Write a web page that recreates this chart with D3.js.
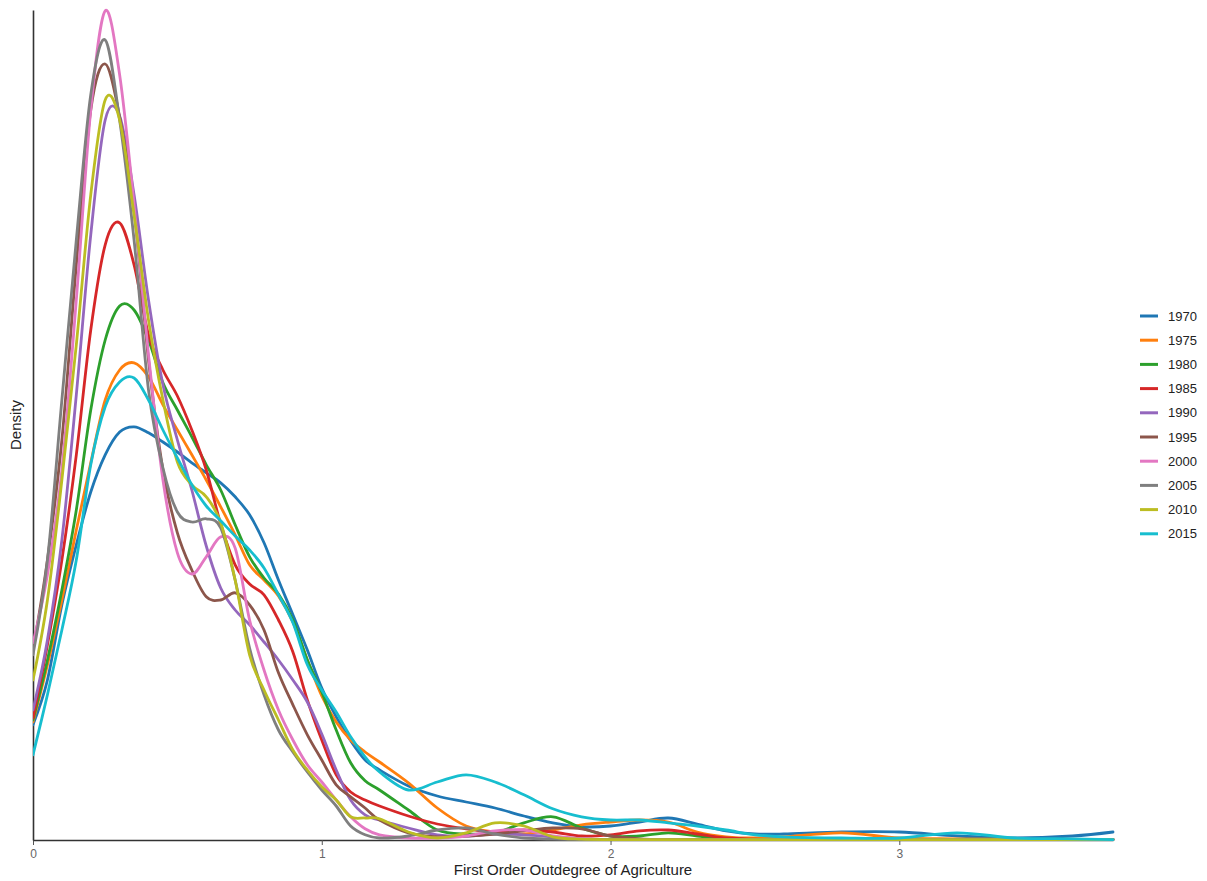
<!DOCTYPE html>
<html>
<head>
<meta charset="utf-8">
<script src="https://cdn.jsdelivr.net/npm/d3@7"></script>
<style>
  html, body { margin: 0; padding: 0; background: #fff; }
  svg { display: block; font-family: "Liberation Sans", Arial, sans-serif; }
</style>
</head>
<body>
<svg id="chart" width="1207" height="881"></svg>
<script>
// ---- data ----
const xGrid = [0,0.05,0.1,0.15,0.2,0.25,0.3,0.35,0.4,0.45,0.5,0.55,0.6,0.65,0.7,0.75,0.8,0.85,0.9,0.95,1.0,1.05,1.1,1.15,1.2,
  1.3,1.4,1.5,1.6,1.7,1.8,1.9,2.0,2.1,2.2,2.3,2.4,2.5,2.6,
  2.8,3.0,3.2,3.4,3.6,3.74];

const years = ["1970","1975","1980","1985","1990","1995","2000","2005","2010","2015"];

const d1970 = [0.288,0.4,0.588,0.738,0.87,0.963,1.02,1.033,1.018,0.995,0.97,0.943,0.918,0.893,0.858,0.813,0.743,0.65,0.563,0.475,0.38,0.308,0.248,0.2,0.175,
  0.135,0.11,0.095,0.08,0.06,0.043,0.033,0.035,0.045,0.055,0.04,0.023,0.015,0.015,
  0.02,0.02,0.01,0.005,0.01,0.02];
const d1975 = [0.295,0.438,0.6,0.775,0.943,1.1,1.175,1.193,1.158,1.088,1.025,0.963,0.9,0.833,0.763,0.688,0.65,0.61,0.545,0.45,0.36,0.295,0.25,0.22,0.195,
  0.143,0.08,0.035,0.02,0.015,0.025,0.038,0.045,0.05,0.045,0.02,0.008,0.005,0.008,
  0.018,0.005,0.003,0.002,0.001,0.001];
const d1980 = [0.3,0.45,0.625,0.825,1.075,1.25,1.335,1.325,1.25,1.143,1.075,1.008,0.938,0.875,0.788,0.708,0.655,0.615,0.55,0.45,0.37,0.275,0.193,0.148,0.125,
  0.075,0.025,0.015,0.018,0.043,0.058,0.03,0.01,0.01,0.018,0.01,0.003,0.001,0.001,
  0.001,0.001,0.001,0.001,0.001,0.001];
const d1985 = [0.305,0.488,0.7,0.963,1.275,1.488,1.543,1.438,1.263,1.175,1.11,1.025,0.925,0.79,0.688,0.64,0.613,0.55,0.47,0.35,0.25,0.163,0.12,0.1,0.085,
  0.06,0.04,0.028,0.02,0.025,0.02,0.01,0.013,0.023,0.025,0.015,0.005,0.002,0.001,
  0.001,0.001,0.001,0.001,0.001,0.001];
const d1990 = [0.325,0.5,0.75,1.113,1.513,1.8,1.81,1.613,1.35,1.138,1.0,0.875,0.735,0.63,0.575,0.538,0.495,0.45,0.4,0.345,0.265,0.175,0.1,0.063,0.05,
  0.03,0.013,0.01,0.015,0.013,0.008,0.003,0.001,0.001,0.001,0.001,0.001,0.001,0.001,
  0.001,0.001,0.001,0.001,0.001,0.001];
const d1995 = [0.475,0.7,1.0,1.438,1.825,1.94,1.808,1.575,1.2,0.925,0.768,0.675,0.608,0.6,0.618,0.588,0.525,0.418,0.338,0.263,0.2,0.138,0.108,0.08,0.05,
  0.018,0.008,0.01,0.015,0.023,0.03,0.028,0.01,0.003,0.001,0.001,0.001,0.001,0.001,
  0.001,0.001,0.001,0.001,0.001,0.001];
const d2000 = [0.493,0.663,0.925,1.35,1.825,2.073,1.913,1.588,1.213,0.9,0.718,0.665,0.708,0.758,0.73,0.55,0.425,0.325,0.25,0.188,0.145,0.1,0.058,0.028,0.013,
  0.005,0.005,0.01,0.023,0.025,0.01,0.003,0.001,0.001,0.001,0.001,0.001,0.001,0.001,
  0.001,0.001,0.001,0.001,0.001,0.001];
const d2005 = [0.463,0.7,1.1,1.5,1.863,2.0,1.8,1.5,1.125,0.93,0.82,0.795,0.803,0.78,0.65,0.48,0.363,0.275,0.22,0.17,0.125,0.085,0.035,0.013,0.005,
  0.01,0.025,0.03,0.015,0.005,0.002,0.001,0.001,0.001,0.001,0.001,0.001,0.001,0.001,
  0.001,0.001,0.001,0.001,0.001,0.001];
const d2010 = [0.4,0.6,0.9,1.238,1.613,1.85,1.8,1.563,1.3,1.1,0.945,0.888,0.858,0.793,0.65,0.463,0.375,0.3,0.225,0.175,0.133,0.1,0.058,0.055,0.053,
  0.02,0.005,0.018,0.043,0.035,0.008,0.002,0.001,0.001,0.001,0.001,0.001,0.001,0.001,
  0.001,0.001,0.001,0.001,0.001,0.001];
const d2015 = [0.213,0.363,0.525,0.7,0.938,1.083,1.145,1.155,1.1,1.025,0.955,0.888,0.835,0.798,0.76,0.725,0.68,0.613,0.543,0.438,0.375,0.32,0.258,0.208,0.17,
  0.125,0.145,0.163,0.145,0.113,0.078,0.058,0.05,0.05,0.043,0.035,0.025,0.013,0.008,
  0.005,0.005,0.018,0.005,0.003,0.001];

const seriesValues = [d1970,d1975,d1980,d1985,d1990,d1995,d2000,d2005,d2010,d2015];
const xTicks = [0,1,2,3];
const xTitle = "First Order Outdegree of Agriculture";
const yTitle = "Density";

// ---- chart ----
(function () {
const svg = d3.select("#chart");
const mLeft = 33, mRight = 1113, mTop = 10, mBottom = 840;
const x = d3.scaleLinear().domain([0, 3.74]).range([mLeft, mRight]);
const y = d3.scaleLinear().domain([0, 2.075]).range([mBottom, mTop]);
const color = d3.scaleOrdinal().domain(years).range(d3.schemeCategory10);

svg.append("defs").append("clipPath").attr("id","clip")
  .append("rect").attr("x", mLeft).attr("y", 0).attr("width", mRight-mLeft+2).attr("height", mBottom+1.5);

// axes
const gx = svg.append("g").attr("transform", `translate(0,${mBottom})`)
  .call(d3.axisBottom(x).tickValues(xTicks).tickFormat(d3.format("d")).tickSize(5).tickSizeOuter(0).tickPadding(4));
gx.select(".domain").attr("stroke","#333").attr("stroke-width",1.6);
gx.selectAll(".tick line").attr("stroke","#555");
gx.selectAll(".tick text").attr("fill","#666").style("font-size","12px").style("font-family","'Liberation Sans', Arial, sans-serif");

const gy = svg.append("g").attr("transform", `translate(${mLeft},0)`)
  .call(d3.axisLeft(y).tickValues([]).tickSizeOuter(0));
gy.select(".domain").attr("stroke","#333").attr("stroke-width",1.6);

// lines
const line = d3.line()
  .x((d,i) => x(xGrid[i]))
  .y(d => y(d))
  .curve(d3.curveCatmullRom.alpha(0));

const gl = svg.append("g").attr("clip-path","url(#clip)");
seriesValues.forEach((vals, k) => {
  gl.append("path")
    .attr("d", line(vals))
    .attr("fill","none")
    .attr("stroke", color(years[k]))
    .attr("stroke-width", 2.8)
    .attr("stroke-linejoin","round")
    .attr("stroke-linecap","round");
});

// titles
svg.append("text").attr("x", (mLeft+mRight)/2).attr("y", 875)
  .attr("text-anchor","middle").style("font-size","15px").attr("fill","#222").text(xTitle);
svg.append("text").attr("transform", `translate(21,425) rotate(-90)`)
  .attr("text-anchor","middle").style("font-size","15px").attr("fill","#222").text(yTitle);

// legend
const lg = svg.append("g");
years.forEach((yr, i) => {
  const yy = 316 + i * 24.2;
  lg.append("line").attr("x1",1140).attr("x2",1158).attr("y1",yy).attr("y2",yy)
    .attr("stroke", color(yr)).attr("stroke-width",3);
  lg.append("text").attr("x",1168).attr("y",yy+4.5).style("font-size","13px").attr("fill","#222").text(yr);
});
})();
</script>
</body>
</html>
